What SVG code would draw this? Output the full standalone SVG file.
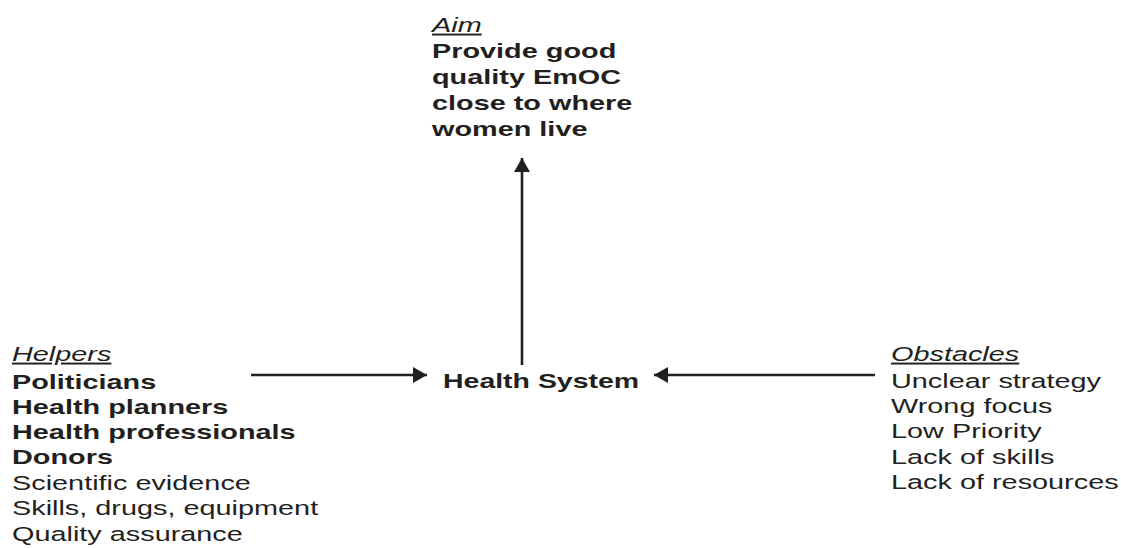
<svg xmlns="http://www.w3.org/2000/svg" width="1121" height="548" viewBox="0 0 1121 548">
<style>
text{font-family:"Liberation Sans",Arial,sans-serif;font-size:19.5px;fill:#231f20}
.b{font-weight:bold}
.h{font-style:italic;text-decoration:underline}
.c{stroke:#231f20;stroke-width:2.6;fill:none}
</style>
<defs>
<marker id="ah" markerUnits="userSpaceOnUse" markerWidth="15" markerHeight="16" refX="14" refY="8" orient="auto">
<path d="M0,0 L14,8 L0,16 z" fill="#231f20"/>
</marker>
</defs>
<rect width="1121" height="548" fill="#fff"/>
<g id="aim" transform="translate(432,0) scale(1.48,1)">
<text class="h" x="0" y="32">Aim</text>
<text class="b" x="0" y="58">Provide good</text>
<text class="b" x="0" y="84">quality EmOC</text>
<text class="b" x="0" y="110">close to where</text>
<text class="b" x="0" y="136">women live</text>
</g>
<g id="helpers" transform="translate(12,0) scale(1.48,1)">
<text class="h" x="0" y="361">Helpers</text>
<text class="b" x="0" y="389">Politicians</text>
<text class="b" x="0" y="414">Health planners</text>
<text class="b" x="0" y="439">Health professionals</text>
<text class="b" x="0" y="464">Donors</text>
<text x="0" y="490">Scientific evidence</text>
<text x="0" y="515">Skills, drugs, equipment</text>
<text x="0" y="541">Quality assurance</text>
</g>
<g id="health-system" transform="translate(443,0) scale(1.46,1)">
<text class="b" x="0" y="388">Health System</text>
</g>
<g id="obstacles" transform="translate(891,0) scale(1.48,1)">
<text class="h" x="0" y="361">Obstacles</text>
<text x="0" y="388">Unclear strategy</text>
<text x="0" y="413">Wrong focus</text>
<text x="0" y="438">Low Priority</text>
<text x="0" y="464">Lack of skills</text>
<text x="0" y="489">Lack of resources</text>
</g>
<g id="connectors">
<line class="c" x1="522" y1="365" x2="522" y2="158" marker-end="url(#ah)"/>
<line class="c" x1="251" y1="375" x2="427" y2="375" marker-end="url(#ah)"/>
<line class="c" x1="875" y1="375" x2="654" y2="375" marker-end="url(#ah)"/>
</g>
</svg>
